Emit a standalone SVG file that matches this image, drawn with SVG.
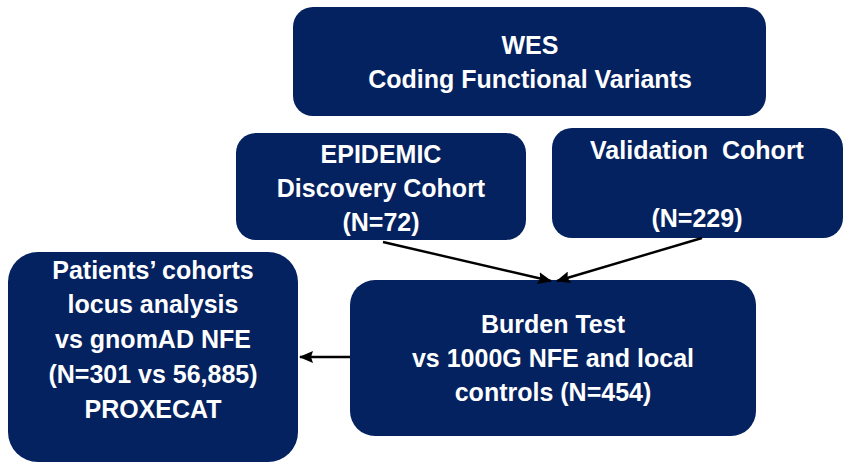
<svg xmlns="http://www.w3.org/2000/svg" width="846" height="465" viewBox="0 0 846 465">
  <defs>
    <marker id="arrow" viewBox="0 0 14 12" refX="13" refY="6" markerWidth="14" markerHeight="12" markerUnits="userSpaceOnUse" orient="auto">
      <path d="M0,0 L14,6 L0,12 L2,6 z" fill="#000"/>
    </marker>
    <style>
      .box { fill: #042160; }
      .lbl { fill: #ffffff; font-family: "Liberation Sans", Arial, sans-serif; font-weight: bold; font-size: 25px; text-anchor: middle; }
      .conn { stroke: #000; stroke-width: 2.4; fill: none; marker-end: url(#arrow); }
    </style>
  </defs>
  <rect width="846" height="465" fill="#ffffff"/>

  <g id="wes">
    <rect class="box" x="293" y="7" width="473" height="109" rx="20"/>
    <text class="lbl" x="530" y="54">WES</text>
    <text class="lbl" x="530" y="88">Coding Functional Variants</text>
  </g>

  <g id="epidemic">
    <rect class="box" x="236" y="133" width="290" height="107" rx="20"/>
    <text class="lbl" x="381" y="163">EPIDEMIC</text>
    <text class="lbl" x="381" y="197">Discovery Cohort</text>
    <text class="lbl" x="381" y="231">(N=72)</text>
  </g>

  <g id="validation">
    <rect class="box" x="552" y="128" width="291" height="110" rx="20"/>
    <text class="lbl" x="697" y="159" xml:space="preserve">Validation  Cohort</text>
    <text class="lbl" x="697" y="227">(N=229)</text>
  </g>

  <g id="patients">
    <rect class="box" x="8" y="252" width="290" height="210" rx="30"/>
    <text class="lbl" x="153" y="279">Patients’ cohorts</text>
    <text class="lbl" x="153" y="313">locus analysis</text>
    <text class="lbl" x="153" y="348">vs gnomAD NFE</text>
    <text class="lbl" x="153" y="383">(N=301 vs 56,885)</text>
    <text class="lbl" x="153" y="418">PROXECAT</text>
  </g>

  <g id="burden">
    <rect class="box" x="350" y="280" width="406" height="156" rx="25"/>
    <text class="lbl" x="553" y="333">Burden Test</text>
    <text class="lbl" x="553" y="367">vs 1000G NFE and local</text>
    <text class="lbl" x="553" y="401">controls (N=454)</text>
  </g>

  <g id="connectors">
    <line class="conn" x1="383" y1="242" x2="551" y2="281"/>
    <line class="conn" x1="702" y1="238" x2="557" y2="281"/>
    <line class="conn" x1="350" y1="357" x2="300" y2="357"/>
  </g>
</svg>
